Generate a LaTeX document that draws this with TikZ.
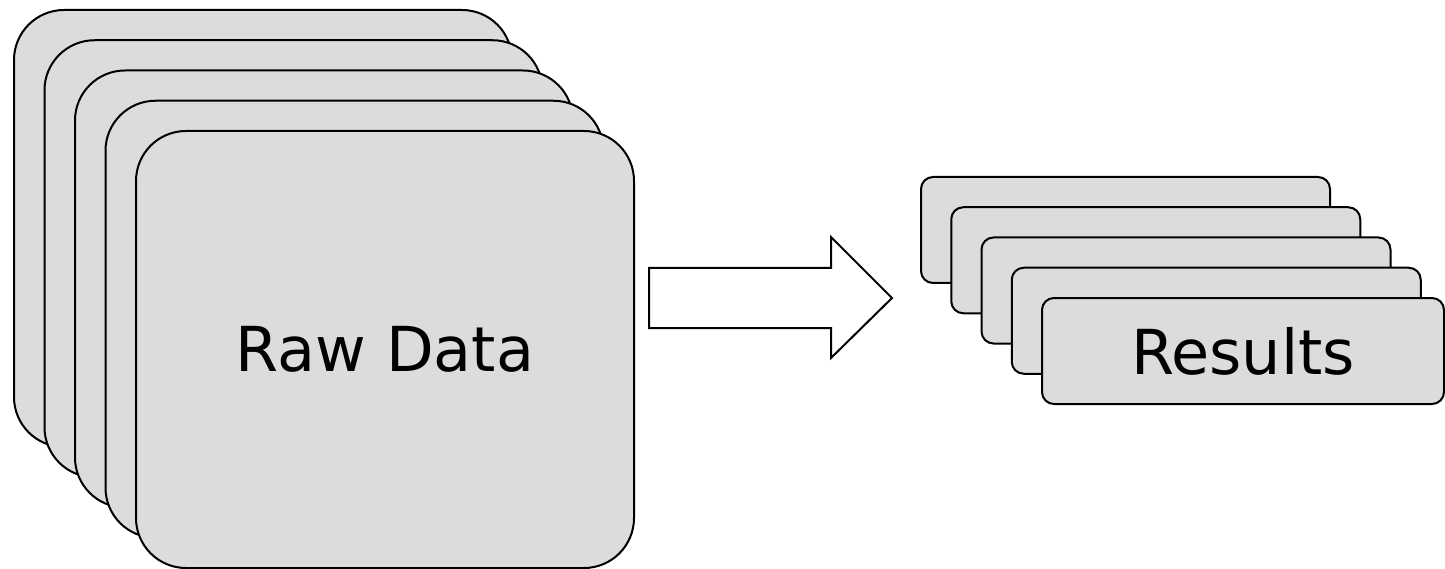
\documentclass[tikz,border=0pt]{standalone}
\usepackage{fontspec}
\setsansfont{DejaVu Sans}
\usepackage{tikz}
\tikzstyle{rawbox} = [rectangle, rounded corners=50pt, minimum width=498pt, minimum height=437pt, inner sep=0pt, draw=black, line width=2pt, fill=boxgray]
\tikzstyle{resbox} = [rectangle, rounded corners=12pt, minimum width=409pt, minimum height=106pt, inner sep=0pt, draw=black, line width=2pt, fill=boxgray]
\tikzstyle{blockarrow} = [draw=black, line width=2pt, fill=white, line join=miter]
\definecolor{boxgray}{HTML}{DCDCDC}

\begin{document}
\begin{tikzpicture}[x=1pt, y=-1pt, every node/.style={font=\fontsize{62}{70}\selectfont\sffamily}]
	\useasboundingbox (0,0) rectangle (1445,569);

	% stack of raw data sheets
	\foreach \i in {0,...,3}
		\node (R\i) [rawbox] at (263+30.5*\i, 228.5+30.25*\i) {};
	\node (raw) [rawbox] at (385, 349.5) {Raw Data};

	% stack of result sheets
	\foreach \i in {0,...,3}
		\node (S\i) [resbox] at (1125.5+30.25*\i, 230+30.25*\i) {};
	\node (res) [resbox, minimum width=402pt] at (1243, 351) {Results};

	% big arrow
	\draw [blockarrow] (649,268) -- (831,268) -- (831,237) -- (892,298)
		-- (831,358) -- (831,328) -- (649,328) -- cycle;
\end{tikzpicture}
\end{document}
